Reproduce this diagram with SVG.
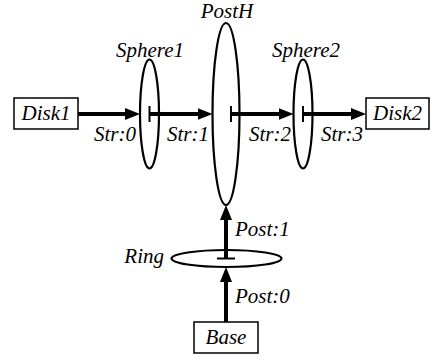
<svg xmlns="http://www.w3.org/2000/svg" width="432" height="360" viewBox="0 0 432 360">
<style>
text{font-family:"Liberation Serif","Times New Roman","DejaVu Serif",serif;font-style:italic;font-size:21px;fill:#000}
.box{fill:#fff;stroke:#000;stroke-width:1.5}
.ell{fill:none;stroke:#000;stroke-width:2.2}
.edge{stroke:#000;stroke-width:4;fill:none}
.tee{stroke:#000;stroke-width:2;fill:none}
.mid{text-anchor:middle}
.end{text-anchor:end}
</style>
<defs>
<marker id="ah" markerUnits="userSpaceOnUse" viewBox="0 0 15 12" markerWidth="15" markerHeight="12" refX="5" refY="6" orient="auto">
<path d="M0,0 L15,6 L0,12 z" fill="#000"/>
</marker>
</defs>
<g id="connectors">
<g id="str0"><path class="edge" d="M78,114 H130" marker-end="url(#ah)"/><text class="end" x="136" y="141">Str:0</text></g>
<g id="str1"><path class="tee" d="M149.5,106 V122"/><path class="edge" d="M149.5,114 H202.5" marker-end="url(#ah)"/><text class="end" x="209" y="141">Str:1</text></g>
<g id="str2"><path class="tee" d="M231,106 V122"/><path class="edge" d="M231,114 H283.5" marker-end="url(#ah)"/><text class="end" x="291" y="141">Str:2</text></g>
<g id="str3"><path class="tee" d="M303,106 V122"/><path class="edge" d="M303,114 H356" marker-end="url(#ah)"/><text class="end" x="363" y="141">Str:3</text></g>
<g id="post1"><path class="tee" d="M217,258.5 H235"/><path class="edge" d="M226,258.5 V215" marker-end="url(#ah)"/><text x="235" y="236">Post:1</text></g>
<g id="post0"><path class="edge" d="M226,322 V277" marker-end="url(#ah)"/><text x="235" y="303">Post:0</text></g>
</g>
<g id="Disk1"><rect class="box" x="14" y="98" width="64" height="31"/><text class="mid" x="46" y="120">Disk1</text></g>
<g id="Sphere1"><ellipse class="ell" cx="149.5" cy="114" rx="9.5" ry="54.5"/><text class="mid" x="150" y="57">Sphere1</text></g>
<g id="PostH"><ellipse class="ell" cx="226" cy="114" rx="13.5" ry="91"/><text class="mid" x="227" y="18">PostH</text></g>
<g id="Sphere2"><ellipse class="ell" cx="303" cy="114" rx="9.5" ry="54.5"/><text class="mid" x="306" y="57">Sphere2</text></g>
<g id="Disk2"><rect class="box" x="366" y="98" width="63" height="31"/><text class="mid" x="397.5" y="120">Disk2</text></g>
<g id="Ring"><ellipse class="ell" cx="226.5" cy="258.5" rx="55" ry="8.5"/><text class="end" x="164" y="263">Ring</text></g>
<g id="Base"><rect class="box" x="194" y="322" width="64" height="31"/><text class="mid" x="226" y="344">Base</text></g>
</svg>
